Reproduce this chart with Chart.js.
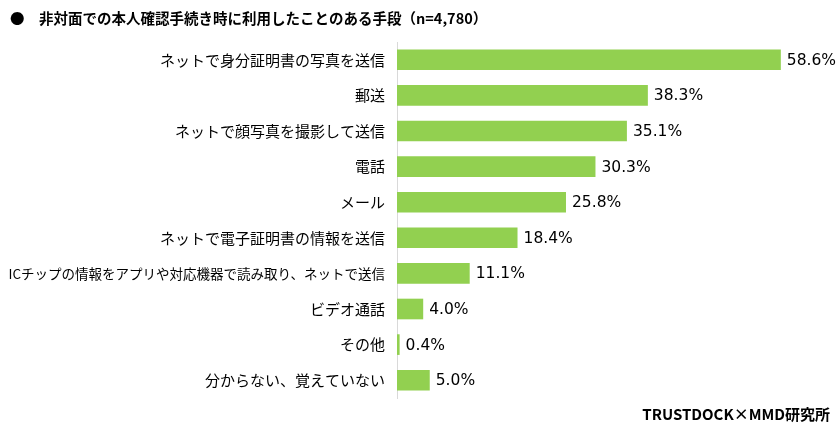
<!DOCTYPE html>
<html>
<head>
<meta charset="utf-8">
<script src="https://cdn.jsdelivr.net/npm/chart.js@4"></script>
<style>
  html, body { margin: 0; padding: 0; background: #fff; }
  #wrap { width: 840px; height: 433px; }
</style>
</head>
<body>
<div id="wrap"><canvas id="grafica" width="840" height="433"></canvas></div>
<script>
const titulo = "●　非対面での本人確認手続き時に利用したことのある手段（n=4,780）";
const fuente = "TRUSTDOCK×MMD研究所";

const categorias = [
    "ネットで身分証明書の写真を送信",
    "郵送",
    "ネットで顔写真を撮影して送信",
    "電話",
    "メール",
    "ネットで電子証明書の情報を送信",
    "ICチップの情報をアプリや対応機器で読み取り、ネットで送信",
    "ビデオ通話",
    "その他",
    "分からない、覚えていない"
];
const valores = [58.6, 38.3, 35.1, 30.3, 25.8, 18.4, 11.1, 4.0, 0.4, 5.0];

const FUENTE_TXT = "'Noto Sans CJK JP', 'Noto Sans', sans-serif";

// etiquetas de valor y textos fijos
const textosPlugin = {
    id: "textos",
    afterDatasetsDraw(chart) {
        const ctx = chart.ctx;
        const meta = chart.getDatasetMeta(0);
        ctx.save();
        ctx.font = "15.5px 'DejaVu Sans', sans-serif";
        ctx.fillStyle = "#000";
        ctx.textAlign = "left";
        ctx.textBaseline = "middle";
        meta.data.forEach((bar, i) => {
            ctx.fillText(valores[i].toFixed(1) + "%", bar.x + 6, bar.y + 1);
        });
        ctx.font = "bold 14.5px " + FUENTE_TXT;
        ctx.fillText(titulo, 10, 18);
        ctx.textAlign = "right";
        ctx.font = "bold 15px " + FUENTE_TXT;
        ctx.fillText(fuente, 830, 414);
        ctx.restore();
    }
};

new Chart(document.getElementById("grafica").getContext("2d"), {
    type: "bar",
    data: {
        labels: categorias,
        datasets: [{
            data: valores,
            backgroundColor: "#92D050",
            barPercentage: 0.58,
            categoryPercentage: 1.0
        }]
    },
    options: {
        indexAxis: "y",
        responsive: false,
        animation: false,
        layout: { padding: { top: 42, bottom: 35, right: 50, left: 0 } },
        plugins: { legend: { display: false }, tooltip: { enabled: false } },
        scales: {
            x: { display: false, min: 0, max: 60 },
            y: {
                grid: { display: false, drawTicks: false },
                border: { color: "#d9d9d9", width: 1 },
                ticks: {
                    color: "#000",
                    font: c => ({ size: c.index === 6 ? 13.5 : 15, family: FUENTE_TXT }),
                    padding: 12
                },
                afterFit: s => { s.width = 397; }
            }
        }
    },
    plugins: [textosPlugin]
});
</script>
</body>
</html>
